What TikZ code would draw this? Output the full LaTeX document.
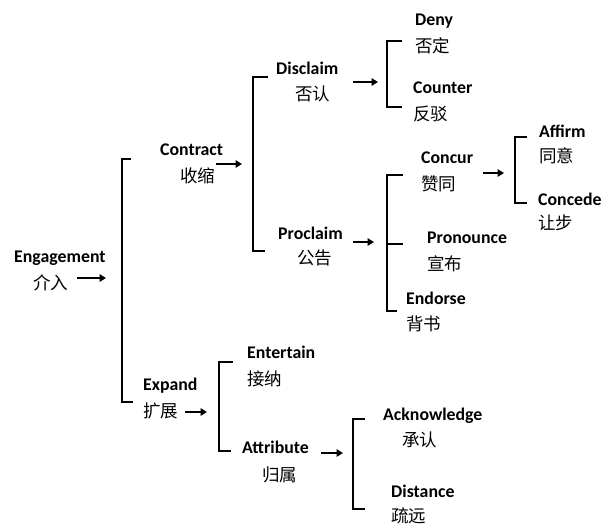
\documentclass[tikz,border=0pt]{standalone}
\usepackage{fontspec}
\setmainfont{Carlito}
\newfontfamily\cjk{Noto Sans CJK SC}
\usetikzlibrary{arrows.meta}
\tikzset{
  en/.style={anchor=base west,inner sep=0pt,font=\fontsize{17.8}{20}\selectfont\bfseries},
  zh/.style={anchor=base west,inner sep=0pt,font=\fontsize{17.5}{20}\selectfont\cjk},
  brk/.style={line width=1.8pt,line join=miter},
  arr/.style={line width=2.2pt,-{Triangle[length=6.5pt,width=7.5pt]}},
}
\begin{document}
\begin{tikzpicture}[x=1pt,y=-1pt]
\useasboundingbox (0,0) rectangle (613,531);
% texts
\node[en] (engE) at (14,262) {Engagement};
\node[zh] (engZ) at (33,289) {介入};
\node[en] (conE) at (160,155) {Contract};
\node[zh] (conZ) at (180,182) {收缩};
\node[en] (disE) at (276,74) {Disclaim};
\node[zh] (disZ) at (295,100) {否认};
\node[en] (denE) at (415,25) {Deny};
\node[zh] (denZ) at (415,52) {否定};
\node[en] (couE) at (413,93) {Counter};
\node[zh] (couZ) at (413,120) {反驳};
\node[en] (proE) at (278,239) {Proclaim};
\node[zh] (proZ) at (297,264) {公告};
\node[en] (ccuE) at (421,163) {Concur};
\node[zh] (ccuZ) at (421,190) {赞同};
\node[en] (affE) at (539,137) {Affirm};
\node[zh] (affZ) at (539,162) {同意};
\node[en] (cceE) at (538,205) {Concede};
\node[zh] (cceZ) at (538,229) {让步};
\node[en] (pronE) at (427,243) {Pronounce};
\node[zh] (pronZ) at (427,270) {宣布};
\node[en] (endE) at (406,304) {Endorse};
\node[zh] (endZ) at (406,330) {背书};
\node[en] (expE) at (143,390) {Expand};
\node[zh] (expZ) at (143,417) {扩展};
\node[en] (entE) at (247,358) {Entertain};
\node[zh] (entZ) at (247,385) {接纳};
\node[en] (attE) at (242,453) {Attribute};
\node[zh] (attZ) at (262,481) {归属};
\node[en] (ackE) at (383,420) {Acknowledge};
\node[zh] (ackZ) at (402,446) {承认};
\node[en] (distE) at (391,497) {Distance};
\node[zh] (distZ) at (391,522) {疏远};
% bracket coordinates
\coordinate (b1a) at (131,159); \coordinate (b1t) at (122,159);
\coordinate (b1b) at (122,402); \coordinate (b1c) at (133,402);
\coordinate (b2a) at (268,77); \coordinate (b2t) at (253,77);
\coordinate (b2b) at (253,251); \coordinate (b2c) at (265,251);
\coordinate (b3a) at (402,41); \coordinate (b3t) at (387,41);
\coordinate (b3b) at (387,107); \coordinate (b3c) at (402,107);
\coordinate (b4a) at (403,175); \coordinate (b4t) at (387,175);
\coordinate (b4b) at (387,311); \coordinate (b4c) at (397,311);
\coordinate (b4m) at (387,244); \coordinate (b4n) at (403,244);
\coordinate (b5a) at (527,137); \coordinate (b5t) at (515,137);
\coordinate (b5b) at (515,203); \coordinate (b5c) at (527,203);
\coordinate (b6a) at (233,362); \coordinate (b6t) at (219,362);
\coordinate (b6b) at (219,451); \coordinate (b6c) at (231,451);
\coordinate (b7a) at (365,419); \coordinate (b7t) at (353,419);
\coordinate (b7b) at (353,509); \coordinate (b7c) at (365,509);
% brackets
\draw[brk] (b1a) -- (b1t) -- (b1b) -- (b1c);
\draw[brk] (b2a) -- (b2t) -- (b2b) -- (b2c);
\draw[brk] (b3a) -- (b3t) -- (b3b) -- (b3c);
\draw[brk] (b4a) -- (b4t) -- (b4b) -- (b4c);
\draw[brk] (b4m) -- (b4n);
\draw[brk] (b5a) -- (b5t) -- (b5b) -- (b5c);
\draw[brk] (b6a) -- (b6t) -- (b6b) -- (b6c);
\draw[brk] (b7a) -- (b7t) -- (b7b) -- (b7c);
% arrows
\coordinate (aE1) at (77,278); \coordinate (aE2) at (106,278);
\coordinate (aC1) at (216,164); \coordinate (aC2) at (242,164);
\coordinate (aD1) at (353,82); \coordinate (aD2) at (378,82);
\coordinate (aP1) at (353,242); \coordinate (aP2) at (374,242);
\coordinate (aK1) at (483,173); \coordinate (aK2) at (504,173);
\coordinate (aX1) at (185,412); \coordinate (aX2) at (207,412);
\coordinate (aA1) at (321,453); \coordinate (aA2) at (343,453);
\draw[arr] (aE1) -- (aE2);
\draw[arr] (aC1) -- (aC2);
\draw[arr] (aD1) -- (aD2);
\draw[arr] (aP1) -- (aP2);
\draw[arr] (aK1) -- (aK2);
\draw[arr] (aX1) -- (aX2);
\draw[arr] (aA1) -- (aA2);
\end{tikzpicture}
\end{document}
